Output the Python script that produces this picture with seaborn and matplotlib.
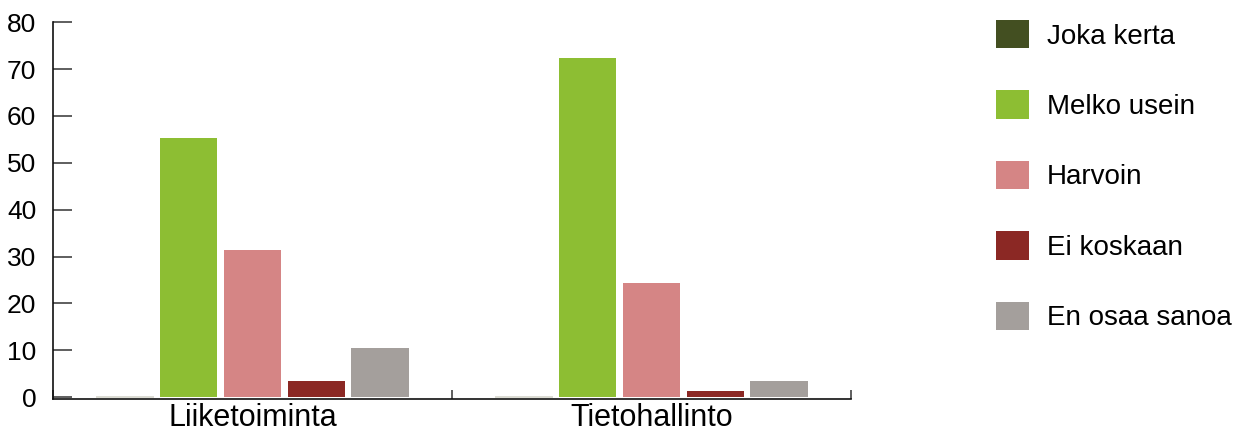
import matplotlib
matplotlib.use("Agg")
import matplotlib.pyplot as plt
from matplotlib.patches import Patch
import pandas as pd
import seaborn as sns

groups = ["Liiketoiminta", "Tietohallinto"]
answers = ["Joka kerta", "Melko usein", "Harvoin", "Ei koskaan", "En osaa sanoa"]
liiketoiminta = [0, 55.3, 31.3, 3.5, 10.4]
tietohallinto = [0, 72.3, 24.3, 1.3, 3.4]
colors = ["#434f21", "#8dbe33", "#d58585", "#8b2824", "#a49f9c"]
y_ticks = [0, 10, 20, 30, 40, 50, 60, 70, 80]

rows = []
for g, vals in zip(groups, [liiketoiminta, tietohallinto]):
    for a, v in zip(answers, vals):
        rows.append({"ryhma": g, "vastaus": a, "osuus": v})
df = pd.DataFrame(rows)

sns.set_theme(style="white")
plt.rcParams["font.family"] = ["Liberation Sans", "DejaVu Sans"]
plt.rcParams["text.color"] = "black"

fig = plt.figure(figsize=(12.36, 4.34), dpi=100)
ax = fig.add_axes([0.0429, 0.0806, 0.6456, 0.8684])

sns.barplot(data=df, x="ryhma", y="osuus", hue="vastaus", order=groups,
            hue_order=answers, palette=colors, width=0.8, gap=0.1,
            saturation=1, linewidth=0, ax=ax, legend=False, errorbar=None)

# zero-height bars still leave a faint baseline stroke
for p in ax.patches:
    if p.get_height() == 0:
        p.set_edgecolor("#d6d6cc")
        p.set_linewidth(1.2)

ax.set_xlim(-0.5, 1.5)
ax.set_ylim(-0.4, 80)
ax.set_yticks(y_ticks)
ax.set_xlabel("")
ax.set_ylabel("")

for s in ["top", "right"]:
    ax.spines[s].set_visible(False)
for s in ["left", "bottom"]:
    ax.spines[s].set_color("#111111")
    ax.spines[s].set_linewidth(1.2)

ax.tick_params(axis="y", left=True, direction="in", length=14, width=1.1,
               color="#333333", labelsize=19, labelcolor="black", pad=12)
ax.tick_params(axis="x", which="major", bottom=True, length=0, labelsize=22,
               labelcolor="black", pad=3)
ax.set_xticks([-0.5, 0.5, 1.5], minor=True)
ax.tick_params(axis="x", which="minor", bottom=True, direction="in",
               length=6.5, width=1.1, color="#333333")

handles = [Patch(facecolor=c, edgecolor="none") for c in colors]
leg = fig.legend(handles, answers, loc="upper left",
                 bbox_to_anchor=(0.8058, 0.954), frameon=False, fontsize=20,
                 handlelength=1.2, handleheight=1.2, handletextpad=0.62,
                 labelspacing=1.47, borderaxespad=0, borderpad=0)
for t in leg.get_texts():
    t.set_color("black")

fig.savefig("out.png", dpi=100, facecolor="white")
